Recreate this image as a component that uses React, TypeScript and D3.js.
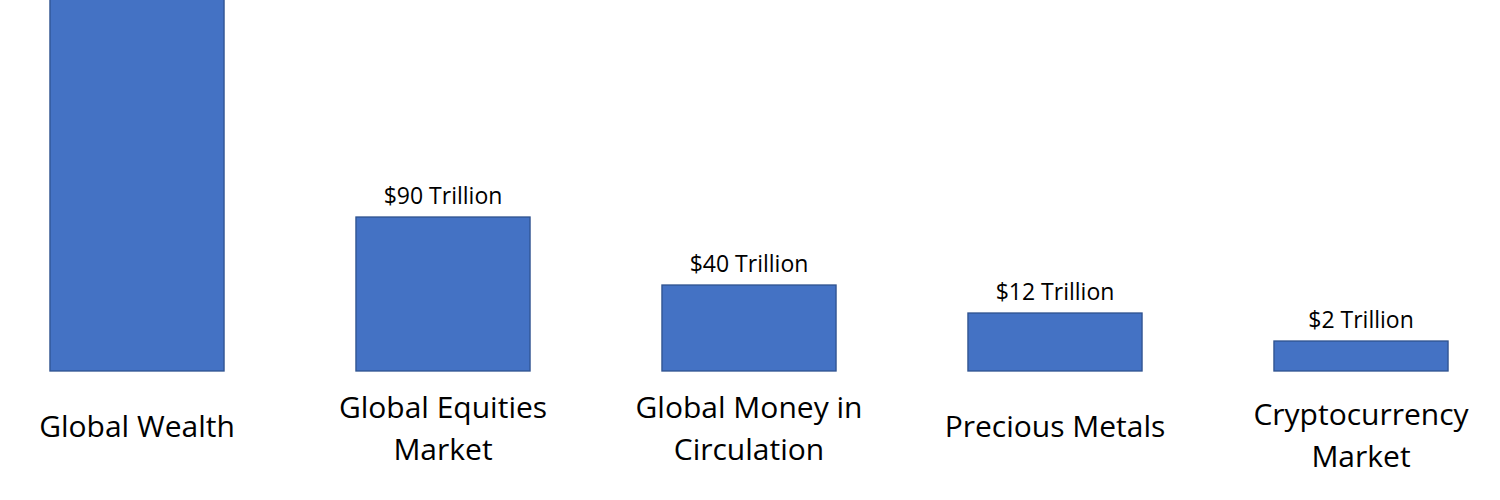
import React from "react";
import * as d3 from "d3";

const categories: string[][] = [
  ["Global Wealth"],
  ["Global Equities", "Market"],
  ["Global Money in", "Circulation"],
  ["Precious Metals"],
  ["Cryptocurrency", "Market"],
];
const values: number[] = [360, 90, 40, 12, 2];
const valueLabels: string[] = ["", "$90 Trillion", "$40 Trillion", "$12 Trillion", "$2 Trillion"];

const W = 1500;
const H = 500;
const BASE = 371;
const FONT = "'Open Sans', 'Segoe UI', Calibri, sans-serif";

export default function App() {
  const keys = categories.map((c) => c.join(" "));
  const x = d3
    .scaleBand<string>()
    .domain(keys)
    .range([-16, 1514])
    .paddingInner(0.431)
    .paddingOuter(0.2155);
  // Infographic (non-proportional) magnitude scale
  const y = d3
    .scaleLinear()
    .domain([0, 2, 12, 40, 90, 360])
    .range([BASE, 341, 313, 285, 217, -60]);

  return (
    <div style={{ position: "fixed", left: 0, top: 0, width: W, height: H, background: "#fff" }}>
      <svg width={W} height={H} style={{ display: "block" }} fontFamily={FONT}>
        {keys.map((k, i) => {
          const x0 = x(k) as number;
          const bw = x.bandwidth();
          const top = y(values[i]);
          const cx = x0 + bw / 2;
          const lines = categories[i];
          return (
            <g key={k}>
              <rect
                x={x0}
                y={top}
                width={bw}
                height={BASE - top}
                fill="#4472C4"
                stroke="#2F528F"
                strokeWidth={1.3}
              />
              {valueLabels[i] && top > 20 && (
                <text x={cx} y={top - 13} textAnchor="middle" fontSize={23} fill="#000">
                  {valueLabels[i]}
                </text>
              )}
              {lines.length === 1 ? (
                <text x={cx} y={437} textAnchor="middle" fontSize={30} fill="#000">
                  {lines[0]}
                </text>
              ) : (
                lines.map((ln, j) => (
                  <text
                    key={j}
                    x={cx}
                    y={(i === 4 ? 425 : 418) + j * 42}
                    textAnchor="middle"
                    fontSize={30}
                    fill="#000"
                  >
                    {ln}
                  </text>
                ))
              )}
            </g>
          );
        })}
      </svg>
    </div>
  );
}
